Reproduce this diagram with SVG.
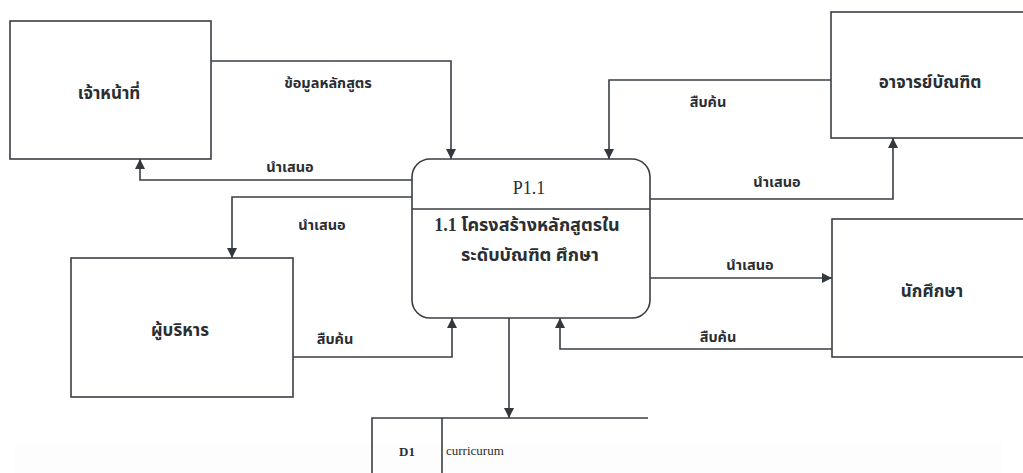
<svg xmlns="http://www.w3.org/2000/svg" width="1023" height="473" viewBox="0 0 1023 473">
  <defs>
    <marker id="arrow" viewBox="0 0 10 10" refX="10" refY="5" markerWidth="10" markerHeight="10" markerUnits="userSpaceOnUse" orient="auto">
      <path d="M0,0 L10,5 L0,10 Z" fill="#33383c"/>
    </marker>
    <style>
      .box { fill: #ffffff; stroke: #3a3f44; stroke-width: 1.6; }
      .flow { fill: none; stroke: #3a3f44; stroke-width: 1.6; }
      .arr { marker-end: url(#arrow); }
      .thai { font-family: "Liberation Serif", "Noto Sans Thai", "Noto Sans", serif; font-weight: bold; fill: #2a2e32; text-anchor: middle; }
      .ent { font-size: 17px; }
      .lbl { font-size: 14.5px; }
      .proc { font-size: 18px; }
      .store { font-family: "Liberation Serif", serif; fill: #2a2e32; font-size: 13px; }
    </style>
  </defs>
  <rect width="1023" height="473" fill="#ffffff"/>
  <rect x="15" y="443" width="987" height="30" fill="#fdfdfd"/>

  <!-- data flows -->
  <g id="connectors">
    <path class="flow arr" d="M211,61 H451 V159"/>
    <path class="flow arr" d="M412,180 H140 V159"/>
    <path class="flow arr" d="M412,197 H232 V258"/>
    <path class="flow arr" d="M293,357 H452 V318"/>
    <path class="flow arr" d="M831,80 H609 V159"/>
    <path class="flow arr" d="M650,199 H893 V138"/>
    <path class="flow arr" d="M650,278 H832"/>
    <path class="flow arr" d="M832,349 H560 V318"/>
    <path class="flow arr" d="M509,318 V418"/>
    <g class="thai lbl">
      <text x="328" y="88">ข้อมูลหลักสูตร</text>
      <text x="290" y="172">นำเสนอ</text>
      <text x="322" y="230">นำเสนอ</text>
      <text x="335" y="344">สืบค้น</text>
      <text x="708" y="107">สืบค้น</text>
      <text x="777" y="187">นำเสนอ</text>
      <text x="750" y="270">นำเสนอ</text>
      <text x="718" y="342">สืบค้น</text>
    </g>
  </g>

  <g id="staff">
    <rect class="box" x="10" y="21" width="201" height="138"/>
    <text class="thai ent" x="109" y="99">เจ้าหน้าที่</text>
  </g>

  <g id="advisor">
    <rect class="box" x="831" y="12" width="200" height="126"/>
    <text class="thai ent" x="930" y="88">อาจารย์บัณฑิต</text>
  </g>

  <g id="executive">
    <rect class="box" x="71" y="258" width="222" height="139"/>
    <text class="thai ent" x="180" y="336">ผู้บริหาร</text>
  </g>

  <g id="student">
    <rect class="box" x="832" y="219" width="200" height="138"/>
    <text class="thai ent" x="932" y="297">นักศึกษา</text>
  </g>

  <g id="process">
    <rect class="box" x="412" y="159" width="238" height="159" rx="18" ry="18"/>
    <line class="flow" x1="412" y1="209" x2="650" y2="209"/>
    <text x="529" y="194" font-family="Liberation Serif, serif" font-size="18" fill="#2a2e32" text-anchor="middle">P1.1</text>
    <text class="thai proc" x="527" y="231">1.1 โครงสร้างหลักสูตรใน</text>
    <text class="thai proc" x="530" y="261">ระดับบัณฑิต ศึกษา</text>
  </g>

  <g id="datastore">
    <path class="flow" d="M648,418 H372 V473 M442,418 V473"/>
    <text class="store" x="407" y="456" text-anchor="middle" font-size="14" font-weight="bold">D1</text>
    <text class="store" x="446" y="455">curricurum</text>
  </g>
</svg>
